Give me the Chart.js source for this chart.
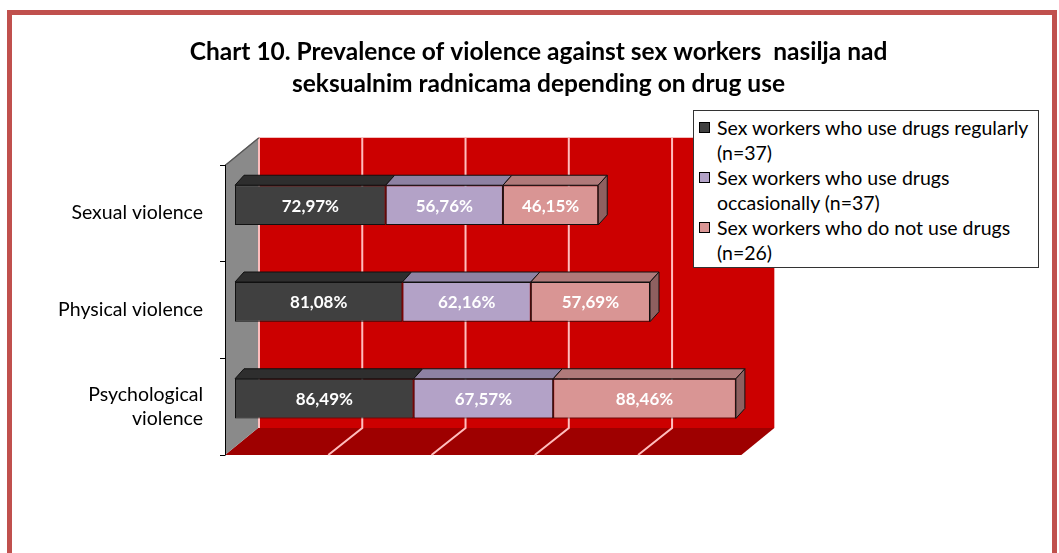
<!DOCTYPE html>
<html>
<head>
<meta charset="utf-8">
<script src="https://cdn.jsdelivr.net/npm/chart.js@4.4.0/dist/chart.umd.min.js"></script>
<style>
  body { margin: 0; background: #fff; }
  #frame { position: absolute; left: 7px; top: 10px; width: 1040px; height: 600px;
           border: 5px solid #c0504d; border-bottom: none; }
  #chart { position: absolute; left: 0; top: 0; }
  #legend { position: absolute; left: 693px; top: 110px; width: 346px; height: 158px;
            box-sizing: border-box; border: 1px solid #333; background: #fff;
            font-family: Lato, sans-serif; font-size: 19.5px; line-height: 25px; padding: 4px 4px 0 4px; }
  .item { position: relative; padding-left: 19px; color: #000; white-space: nowrap; }
  .sw { position: absolute; left: 1px; top: 7px; width: 9px; height: 9px; border: 1px solid #000; }
</style>
</head>
<body>
<div id="frame"></div>
<canvas id="chart" width="1059" height="553"></canvas>
<div id="legend"></div>
<script>
  const categories = ['Sexual violence', 'Physical violence', ['Psychological', 'violence']];
  const seriesNames = [
    ['Sex workers who use drugs regularly', '(n=37)'],
    ['Sex workers who use drugs', 'occasionally (n=37)'],
    ['Sex workers who do not use drugs', '(n=26)']
  ];
  const regularUse = [72.97, 81.08, 86.49];
  const occasionalUse = [56.76, 62.16, 67.57];
  const noUse = [46.15, 57.69, 88.46];
  const wallMax = 250;
  const gridStep = 50;

  // face colours: front, top, side
  const faces = [
    ['#404040', '#2e2e2e', '#262626'],
    ['#b3a2c7', '#8e82a3', '#75698a'],
    ['#d99594', '#b07a7a', '#8e6060']
  ];

  // 3D offsets relative to the bar plane
  const FRONT = { x: -10, y: 8 };
  const BACK = { x: 23, y: -19 };
  const BAR_DEPTH = { x: 9, y: -10 };

  function poly(ctx, pts, fill, stroke) {
    ctx.beginPath();
    ctx.moveTo(pts[0][0], pts[0][1]);
    for (let i = 1; i < pts.length; i++) ctx.lineTo(pts[i][0], pts[i][1]);
    ctx.closePath();
    if (fill) { ctx.fillStyle = fill; ctx.fill(); }
    if (stroke) { ctx.strokeStyle = stroke; ctx.lineWidth = 1; ctx.stroke(); }
  }

  const walls = {
    id: 'walls',
    beforeDatasetsDraw(chart) {
      const ctx = chart.ctx;
      const xs = chart.scales.x, ys = chart.scales.y;
      const a = chart.chartArea;
      const x0 = xs.getPixelForValue(0), x1 = xs.getPixelForValue(wallMax);
      const topF = a.top + FRONT.y, botF = a.bottom + FRONT.y;
      const topB = a.top + BACK.y, botB = a.bottom + BACK.y;
      ctx.save();
      // back wall
      poly(ctx, [[x0 + BACK.x, topB], [x1 + BACK.x, topB], [x1 + BACK.x, botB], [x0 + BACK.x, botB]], '#cc0000');
      // floor
      poly(ctx, [[x0 + FRONT.x, botF], [x1 + FRONT.x, botF], [x1 + BACK.x, botB], [x0 + BACK.x, botB]], '#9e0000');
      // grid lines
      ctx.strokeStyle = '#ffbdbd';
      ctx.lineWidth = 2;
      for (let v = 0; v < wallMax; v += gridStep) {
        const gx = xs.getPixelForValue(v);
        ctx.beginPath();
        ctx.moveTo(gx + BACK.x + 1, topB);
        ctx.lineTo(gx + BACK.x + 1, botB);
        if (v > 0) ctx.lineTo(gx + FRONT.x, botF);
        ctx.stroke();
      }
      // side wall
      poly(ctx, [[x0 + FRONT.x, topF], [x0 + BACK.x, topB], [x0 + BACK.x, botB], [x0 + FRONT.x, botF]], '#8a8a8a');
      poly(ctx, [[x0 + FRONT.x, topF], [x0 + BACK.x, topB], [x0 + BACK.x + 2, topB], [x0 + FRONT.x + 2, topF]], '#555');
      // category axis with tick marks
      ctx.strokeStyle = '#000';
      ctx.lineWidth = 1;
      ctx.beginPath();
      ctx.moveTo(x0 + FRONT.x + 0.5, topF);
      ctx.lineTo(x0 + FRONT.x + 0.5, botF);
      for (let k = 0; k <= categories.length; k++) {
        const ty = Math.round(ys.getPixelForValue(k - 0.5) + FRONT.y) + 0.5;
        ctx.moveTo(x0 + FRONT.x - 5, ty);
        ctx.lineTo(x0 + FRONT.x + 0.5, ty);
      }
      ctx.stroke();
      ctx.restore();
    },
    afterDatasetsDraw(chart) {
      const ctx = chart.ctx;
      const last = chart.data.datasets.length - 1;
      ctx.save();
      chart.data.datasets.forEach((ds, di) => {
        const meta = chart.getDatasetMeta(di);
        meta.data.forEach((bar, i) => {
          const p = bar.getProps(['x', 'y', 'base', 'height'], true);
          const l = Math.min(p.x, p.base), r = Math.max(p.x, p.base);
          const t = p.y - p.height / 2, b = p.y + p.height / 2;
          const dx = BAR_DEPTH.x, dy = BAR_DEPTH.y;
          poly(ctx, [[l, t], [r, t], [r + dx, t + dy], [l + dx, t + dy]], faces[di][1], '#111');
          if (di === last) {
            poly(ctx, [[r, t], [r + dx, t + dy], [r + dx, b + dy], [r, b]], faces[di][2], '#111');
          }
          ctx.fillStyle = '#fff';
          ctx.font = 'bold 17px Lato, sans-serif';
          ctx.textAlign = 'center';
          ctx.textBaseline = 'middle';
          ctx.fillText(ds.data[i].toFixed(2).replace('.', ',') + '%', (l + r) / 2, p.y + 1);
        });
      });
      ctx.restore();
    }
  };

  const seriesValues = [regularUse, occasionalUse, noUse];

  new Chart(document.getElementById('chart'), {
    type: 'bar',
    data: {
      labels: categories,
      datasets: seriesNames.map((name, i) => ({
        label: name.join(' '),
        data: seriesValues[i],
        backgroundColor: faces[i][0],
        borderColor: '#111',
        borderWidth: 1,
        borderSkipped: false,
        barPercentage: 0.41,
        categoryPercentage: 1
      }))
    },
    options: {
      indexAxis: 'y',
      responsive: false,
      animation: false,
      devicePixelRatio: 1,
      layout: { padding: { left: 20, right: 2, top: 10, bottom: 106 } },
      plugins: {
        legend: { display: false },
        tooltip: { enabled: false },
        title: {
          display: true,
          text: ['Chart 10. Prevalence of violence against sex workers  nasilja nad',
                 'seksualnim radnicama depending on drug use'],
          color: '#000',
          font: { family: 'Lato, sans-serif', size: 24.5, weight: 'bold', lineHeight: 1.3 },
          padding: { top: 26, bottom: 57 }
        }
      },
      scales: {
        x: { stacked: true, display: false, min: 0, max: 398 },
        y: {
          stacked: true,
          grid: { display: false, drawTicks: false },
          border: { display: false },
          ticks: { color: '#000', font: { family: 'Lato, sans-serif', size: 19.5, lineHeight: 1.25 }, padding: 32, labelOffset: 8 },
          afterFit(scale) { scale.width = 215; }
        }
      }
    },
    plugins: [walls]
  });

  const legend = document.getElementById('legend');
  seriesNames.forEach((lines, i) => {
    const item = document.createElement('div');
    item.className = 'item';
    const sw = document.createElement('span');
    sw.className = 'sw';
    sw.style.background = faces[i][0];
    item.appendChild(sw);
    lines.forEach((line, j) => {
      if (j > 0) item.appendChild(document.createElement('br'));
      item.appendChild(document.createTextNode(line));
    });
    legend.appendChild(item);
  });
</script>
</body>
</html>
